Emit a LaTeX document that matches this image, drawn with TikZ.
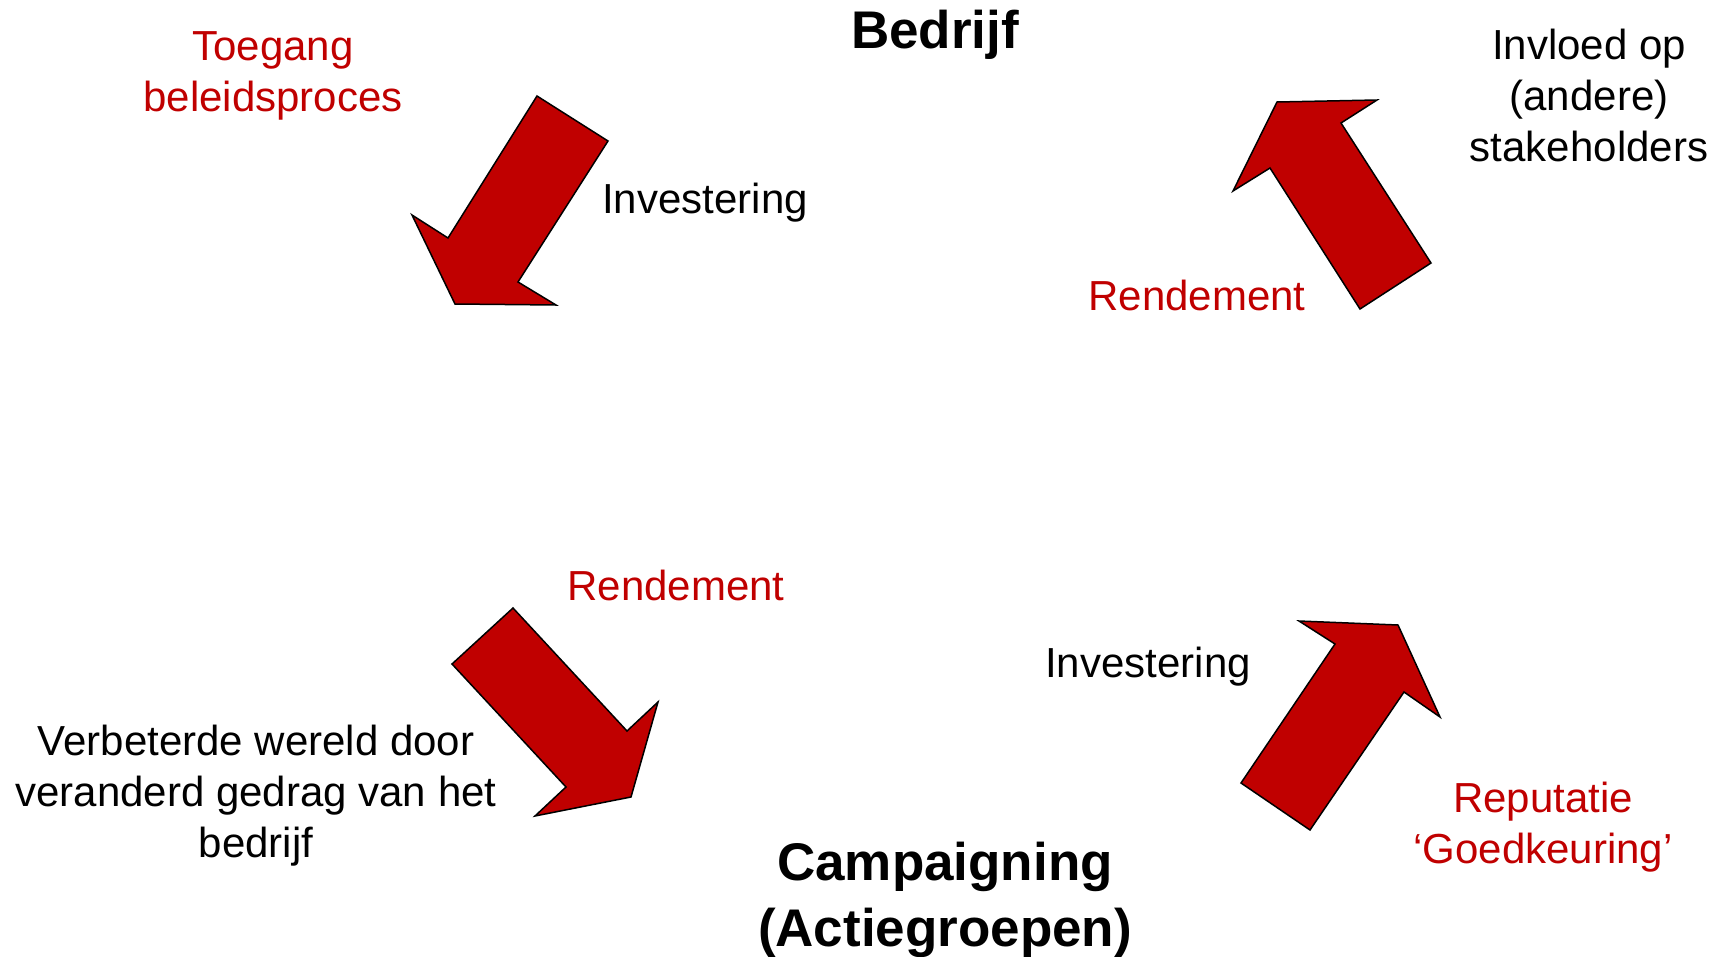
\documentclass[tikz,border=0pt]{standalone}
\usepackage{fontspec}
\setmainfont{Liberation Sans}
\usepackage{tikz}

\definecolor{campred}{HTML}{C00000}

\begin{document}
\begin{tikzpicture}[x=1pt, y=-1pt,
  lbl/.style={anchor=base, align=center, font=\fontsize{42}{51}\selectfont},
  redlbl/.style={lbl, text=campred},
  party/.style={anchor=base, align=center, font=\fontsize{53}{66}\selectfont\bfseries},
  blockarrow/.style={fill=campred, draw=black, line width=1.5pt, line join=miter}]

\useasboundingbox (0,0) rectangle (1727,956);

%------------------ PARTIES ------------------%
\node[party] (bedrijf) at (935,48) {Bedrijf};
\node[party] (campaign) at (945,946) {Campaigning\\(Actiegroepen)};

%------------------ TOP LEFT (Investering) ------------------%
\filldraw[blockarrow] (537,96) -- (608,141) -- (518,282) -- (556,305)
  -- (455,304) -- (412,215) -- (448,238) -- cycle;
\node[redlbl] (toegang) at (273,111) {Toegang\\beleidsproces};
\node[lbl] (invest1) at (705,213) {Investering};

%------------------ TOP RIGHT (Rendement) ------------------%
\filldraw[blockarrow] (1277,102) -- (1377,100) -- (1341,123) -- (1431,263)
  -- (1360,309) -- (1270,168) -- (1233,191) -- cycle;
\node[lbl] (invloed) at (1589,161) {Invloed op\\(andere)\\stakeholders};
\node[redlbl] (rend1) at (1197,310) {Rendement};

%------------------ BOTTOM LEFT (Rendement) ------------------%
\filldraw[blockarrow] (513,608) -- (627,731) -- (658,702) -- (631,797)
  -- (535,816) -- (566,787) -- (452,664) -- cycle;
\node[redlbl] (rend2) at (676,600) {Rendement};
\node[lbl] (wereld) at (256,857) {Verbeterde wereld door\\veranderd gedrag van het\\bedrijf};

%------------------ BOTTOM RIGHT (Investering) ------------------%
\filldraw[blockarrow] (1299,621) -- (1398,625) -- (1440,717) -- (1404,692)
  -- (1310,830) -- (1241,783) -- (1335,644) -- cycle;
\node[lbl] (invest2) at (1148,677) {Investering};
\node[redlbl] (reputatie) at (1543,863) {Reputatie\\`Goedkeuring'};

\end{tikzpicture}
\end{document}
